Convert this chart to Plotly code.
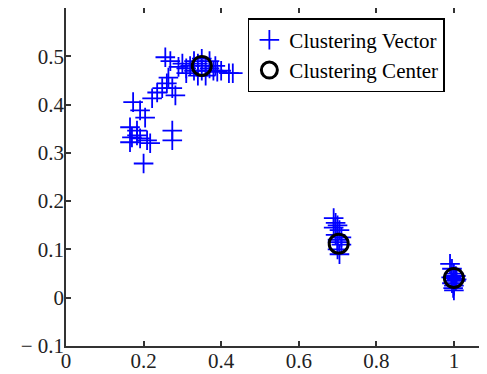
import plotly.graph_objects as go

vec_x = [0.256, 0.269, 0.264, 0.26, 0.248, 0.235, 0.274, 0.282, 0.222, 0.173, 0.191, 0.204,
         0.165, 0.183, 0.17, 0.191, 0.209, 0.217, 0.165, 0.274, 0.274, 0.2, 0.183,
         0.29, 0.31, 0.32, 0.33, 0.34, 0.35, 0.36, 0.37, 0.38, 0.39, 0.40, 0.42, 0.43,
         0.33, 0.36, 0.34, 0.30, 0.37, 0.35, 0.31, 0.385,
         0.69, 0.695, 0.70, 0.69, 0.705, 0.695, 0.70, 0.71, 0.70, 0.705, 0.70, 0.71,
         0.99, 0.995, 1.0, 1.0, 1.005, 0.995, 1.0, 1.005, 0.998, 1.0, 0.993, 1.007]
vec_y = [0.498, 0.49, 0.456, 0.444, 0.434, 0.425, 0.434, 0.419, 0.413, 0.405, 0.388, 0.373,
         0.353, 0.346, 0.332, 0.33, 0.326, 0.32, 0.322, 0.346, 0.326, 0.278, 0.336,
         0.478, 0.475, 0.48, 0.47, 0.485, 0.47, 0.48, 0.475, 0.47, 0.468, 0.47, 0.465, 0.465,
         0.49, 0.46, 0.46, 0.485, 0.49, 0.495, 0.465, 0.48,
         0.165, 0.155, 0.15, 0.145, 0.14, 0.13, 0.12, 0.11, 0.10, 0.09, 0.115, 0.125,
         0.07, 0.06, 0.05, 0.04, 0.035, 0.03, 0.025, 0.045, 0.02, 0.015, 0.042, 0.038]

center_x = [0.35, 0.703, 1.0]
center_y = [0.48, 0.112, 0.041]

x_ticks = [0, 0.2, 0.4, 0.6, 0.8, 1]
x_labels = ["0", "0.2", "0.4", "0.6", "0.8", "1"]
y_ticks = [-0.1, 0, 0.1, 0.2, 0.3, 0.4, 0.5]
y_labels = ["\u2212 0.1", "0", "0.1", "0.2", "0.3", "0.4", "0.5"]

font = "Liberation Serif"
tick_font = dict(family=font, size=21, color="#222")

fig = go.Figure()
fig.add_trace(go.Scatter(
    x=vec_x, y=vec_y, mode="markers", name="Clustering Vector", legendgroup="a",
    marker=dict(symbol="cross-thin", size=14, line=dict(color="#0000ff", width=1.8), color="#0000ff"),
))
fig.add_trace(go.Scatter(
    x=center_x, y=center_y, mode="markers", name="Clustering Center", legendgroup="b",
    marker=dict(symbol="circle-open", size=19, line=dict(color="black", width=3), color="black"),
))

# page body has an 8px default margin, so the figure is offset by (8, 8)
fig.update_layout(
    template="none",
    width=479, height=366,
    margin=dict(l=58, r=0, t=0, b=28, pad=0),
    paper_bgcolor="white", plot_bgcolor="white",
    font=dict(family=font, size=21, color="black"),
    showlegend=True,
    legend=dict(
        x=0.432, y=0.97, xanchor="left", yanchor="top",
        bgcolor="white", bordercolor="black", borderwidth=1.5,
        font=dict(family=font, size=21, color="black"),
        tracegroupgap=0,
    ),
    xaxis=dict(
        range=[0, 1.0853], tickvals=x_ticks, ticktext=x_labels, tickfont=tick_font,
        showgrid=False, zeroline=False, showline=True, linecolor="#333", linewidth=1.5,
        mirror="ticks", ticks="inside", ticklen=5, tickcolor="#333", tickwidth=1.5,
        ticklabelstandoff=-5, automargin=False,
    ),
    yaxis=dict(
        range=[-0.1, 0.6], tickvals=y_ticks, ticktext=y_labels, tickfont=tick_font,
        showgrid=False, zeroline=False, showline=True, linecolor="#333", linewidth=1.5,
        mirror="ticks", ticks="inside", ticklen=5, tickcolor="#333", tickwidth=1.5,
        ticklabelstandoff=-4, automargin=False,
    ),
)

fig.write_html("out.html")
